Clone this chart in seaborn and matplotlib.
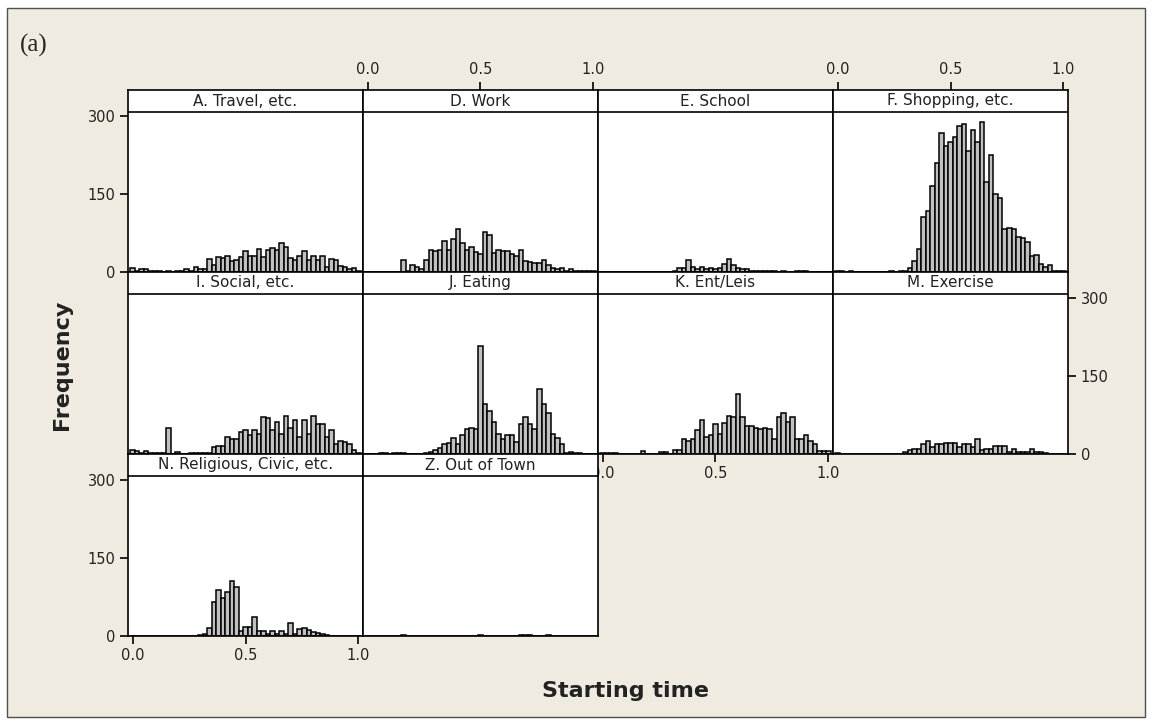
import matplotlib
matplotlib.use('Agg')
import matplotlib.pyplot as plt
from matplotlib.patches import Rectangle
import seaborn as sns
import numpy as np
import pandas as pd

panels = ["A. Travel, etc.", "D. Work", "E. School", "F. Shopping, etc.",
          "I. Social, etc.", "J. Eating", "K. Ent/Leis", "M. Exercise",
          "N. Religious, Civic, etc.", "Z. Out of Town"]

# histogram bins: centres 0.00, 0.02, ..., 1.00
bin_centers = np.round(np.arange(51) * 0.02, 2)

# frequencies, one value per bin
travel = [7, 2, 5, 5, 2, 1, 2, 0, 1, 0, 1, 2, 5, 2, 10, 6, 6, 25, 14, 28,
          27, 30, 21, 24, 28, 40, 30, 30, 45, 29, 43, 46, 43, 56, 49, 27, 24, 31, 40, 23,
          30, 23, 30, 10, 25, 23, 12, 10, 5, 7, 1]
work = [0, 0, 0, 0, 0, 0, 0, 0, 23, 2, 14, 10, 5, 23, 42, 40, 42, 60, 42, 64,
        83, 55, 42, 48, 38, 34, 77, 72, 37, 42, 40, 40, 34, 30, 42, 21, 20, 17, 17, 23,
        14, 7, 5, 7, 2, 5, 1, 1, 2, 2, 1]
school = [0, 0, 0, 0, 0, 0, 0, 0, 0, 0, 0, 0, 0, 0, 0, 0, 2, 7, 7, 23,
          10, 5, 10, 5, 7, 5, 7, 15, 25, 14, 7, 5, 5, 2, 2, 1, 2, 2, 1, 0,
          1, 0, 0, 2, 1, 2, 0, 0, 0, 0, 0]
shopping = [2, 1, 0, 1, 0, 0, 0, 0, 0, 0, 0, 0, 1, 0, 1, 1, 7, 21, 45, 106,
            118, 166, 209, 268, 243, 250, 260, 282, 285, 232, 274, 250, 288, 173, 226, 151, 143, 83, 85, 83,
            68, 65, 57, 31, 33, 15, 10, 14, 2, 1, 2]
social = [8, 5, 1, 5, 2, 1, 1, 1, 51, 0, 3, 0, 0, 2, 2, 2, 2, 2, 13, 15,
          15, 33, 28, 28, 42, 46, 37, 46, 39, 71, 69, 47, 62, 39, 74, 51, 65, 33, 65, 39,
          74, 57, 57, 33, 46, 20, 25, 23, 20, 8, 1]
eating = [0, 0, 0, 1, 1, 0, 1, 1, 1, 0, 0, 0, 0, 2, 4, 7, 12, 20, 22, 31,
          19, 37, 49, 51, 49, 207, 97, 83, 62, 39, 28, 37, 36, 24, 57, 71, 57, 49, 126, 97,
          79, 39, 31, 20, 1, 4, 1, 1, 0, 0, 0]
entleis = [1, 1, 1, 1, 0, 0, 0, 0, 0, 6, 0, 0, 0, 3, 3, 0, 7, 7, 28, 25,
           28, 47, 65, 33, 37, 57, 38, 60, 74, 71, 115, 71, 54, 54, 51, 49, 51, 49, 28, 72,
           78, 61, 72, 28, 28, 37, 25, 20, 6, 6, 6]
exercise = [1, 0, 0, 0, 0, 0, 0, 0, 0, 0, 0, 0, 0, 0, 0, 3, 7, 10, 10, 19,
            25, 13, 20, 20, 21, 21, 22, 13, 20, 20, 13, 28, 7, 10, 10, 15, 15, 15, 4, 10,
            4, 4, 3, 9, 3, 3, 2, 0, 0, 0, 0]
religious = [0, 0, 0, 0, 0, 0, 0, 0, 0, 0, 0, 0, 0, 0, 0, 1, 4, 15, 66, 88,
             74, 85, 106, 94, 10, 18, 18, 37, 10, 10, 4, 10, 4, 10, 4, 25, 4, 14, 16, 12,
             8, 6, 3, 1, 0, 0, 0, 0, 0, 0, 0]
out_of_town = [0, 0, 0, 0, 0, 0, 0, 0, 2, 0, 0, 0, 0, 0, 0, 0, 0, 0, 0, 0,
               0, 0, 0, 0, 0, 2, 0, 0, 0, 0, 0, 0, 0, 0, 1, 2, 2, 0, 0, 0,
               2, 0, 0, 0, 0, 0, 0, 0, 0, 0, 0]

counts = [travel, work, school, shopping, social, eating, entleis, exercise,
          religious, out_of_town]

df = pd.DataFrame({
    "activity": np.repeat(panels, len(bin_centers)),
    "time": np.tile(bin_centers, len(panels)),
    "count": np.concatenate(counts),
})

sns.set_theme(style="white")
plt.rcParams["font.family"] = ["DejaVu Sans"]

g = sns.FacetGrid(df, col="activity", col_wrap=4, col_order=panels,
                  sharex=True, sharey=True, despine=False, height=2, aspect=1.3)
g.map_dataframe(sns.histplot, x="time", weights="count", binwidth=0.02,
                binrange=(-0.01, 1.01), color="#C0C0C0", edgecolor="black",
                linewidth=1.1, alpha=1)

fig = g.figure
fig.set_size_inches(11.53, 7.25)
fig.set_facecolor("white")
W, H = 1153, 725

# beige panel with thin border
fig.patches.append(Rectangle((7 / W, 8 / H), 1138 / W, 709 / H, transform=fig.transFigure,
                             facecolor="#EFEBE0", edgecolor="#505050", lw=1, zorder=-5))

strip_frac = 160 / 182
ytop = 308 / strip_frac
ax_list = list(g.axes.flat)
for i, ax in enumerate(ax_list):
    row, col = divmod(i, 4)
    top_px = 90 + 182 * row
    ax.set_position([(128 + 235 * col) / W, (H - top_px - 182) / H, 235 / W, 182 / H])
    ax.set_facecolor("white")
    ax.set_xlim(-0.02, 1.02)
    ax.set_ylim(0, ytop)
    ax.set_xticks([0, 0.5, 1.0])
    ax.set_yticks([0, 150, 300])
    ax.set_xlabel("")
    ax.set_ylabel("")
    ax.set_title("")
    for s in ax.spines.values():
        s.set_color("black")
        s.set_linewidth(1.2)
    ax.tick_params(which="both", direction="out", length=6, width=1.2, color="black",
                   labelsize=10.5, pad=3, labelcolor="#222222",
                   left=False, right=False, top=False, bottom=False,
                   labelleft=False, labelright=False, labeltop=False, labelbottom=False)
    ax.add_patch(Rectangle((0, strip_frac), 1, 1 - strip_frac, transform=ax.transAxes,
                           facecolor="white", edgecolor="black", lw=1.2, zorder=5))
    ax.text(0.5, (1 + strip_frac) / 2, panels[i], transform=ax.transAxes, ha="center",
            va="center", fontsize=11, color="#222222", zorder=6)

ax_list[0].tick_params(left=True, labelleft=True)
ax_list[1].tick_params(top=True, labeltop=True)
ax_list[3].tick_params(top=True, labeltop=True)
ax_list[7].tick_params(right=True, labelright=True)
ax_list[6].tick_params(bottom=True, labelbottom=True)
ax_list[8].tick_params(left=True, labelleft=True, bottom=True, labelbottom=True)
ax_list[0].xaxis.set_major_formatter(matplotlib.ticker.FormatStrFormatter("%.1f"))

fig.text(62 / W, 1 - 365 / H, "Frequency", rotation=90, ha="center", va="center",
         fontsize=16, fontweight="bold", color="#222222")
fig.text(626 / W, 1 - 691 / H, "Starting time", ha="center", va="center",
         fontsize=16, fontweight="bold", color="#222222")
fig.text(20 / W, 1 - 45 / H, "(a)", ha="left", va="center", fontsize=18,
         family="Liberation Serif")

fig.savefig("out.png", dpi=100, facecolor="white")
